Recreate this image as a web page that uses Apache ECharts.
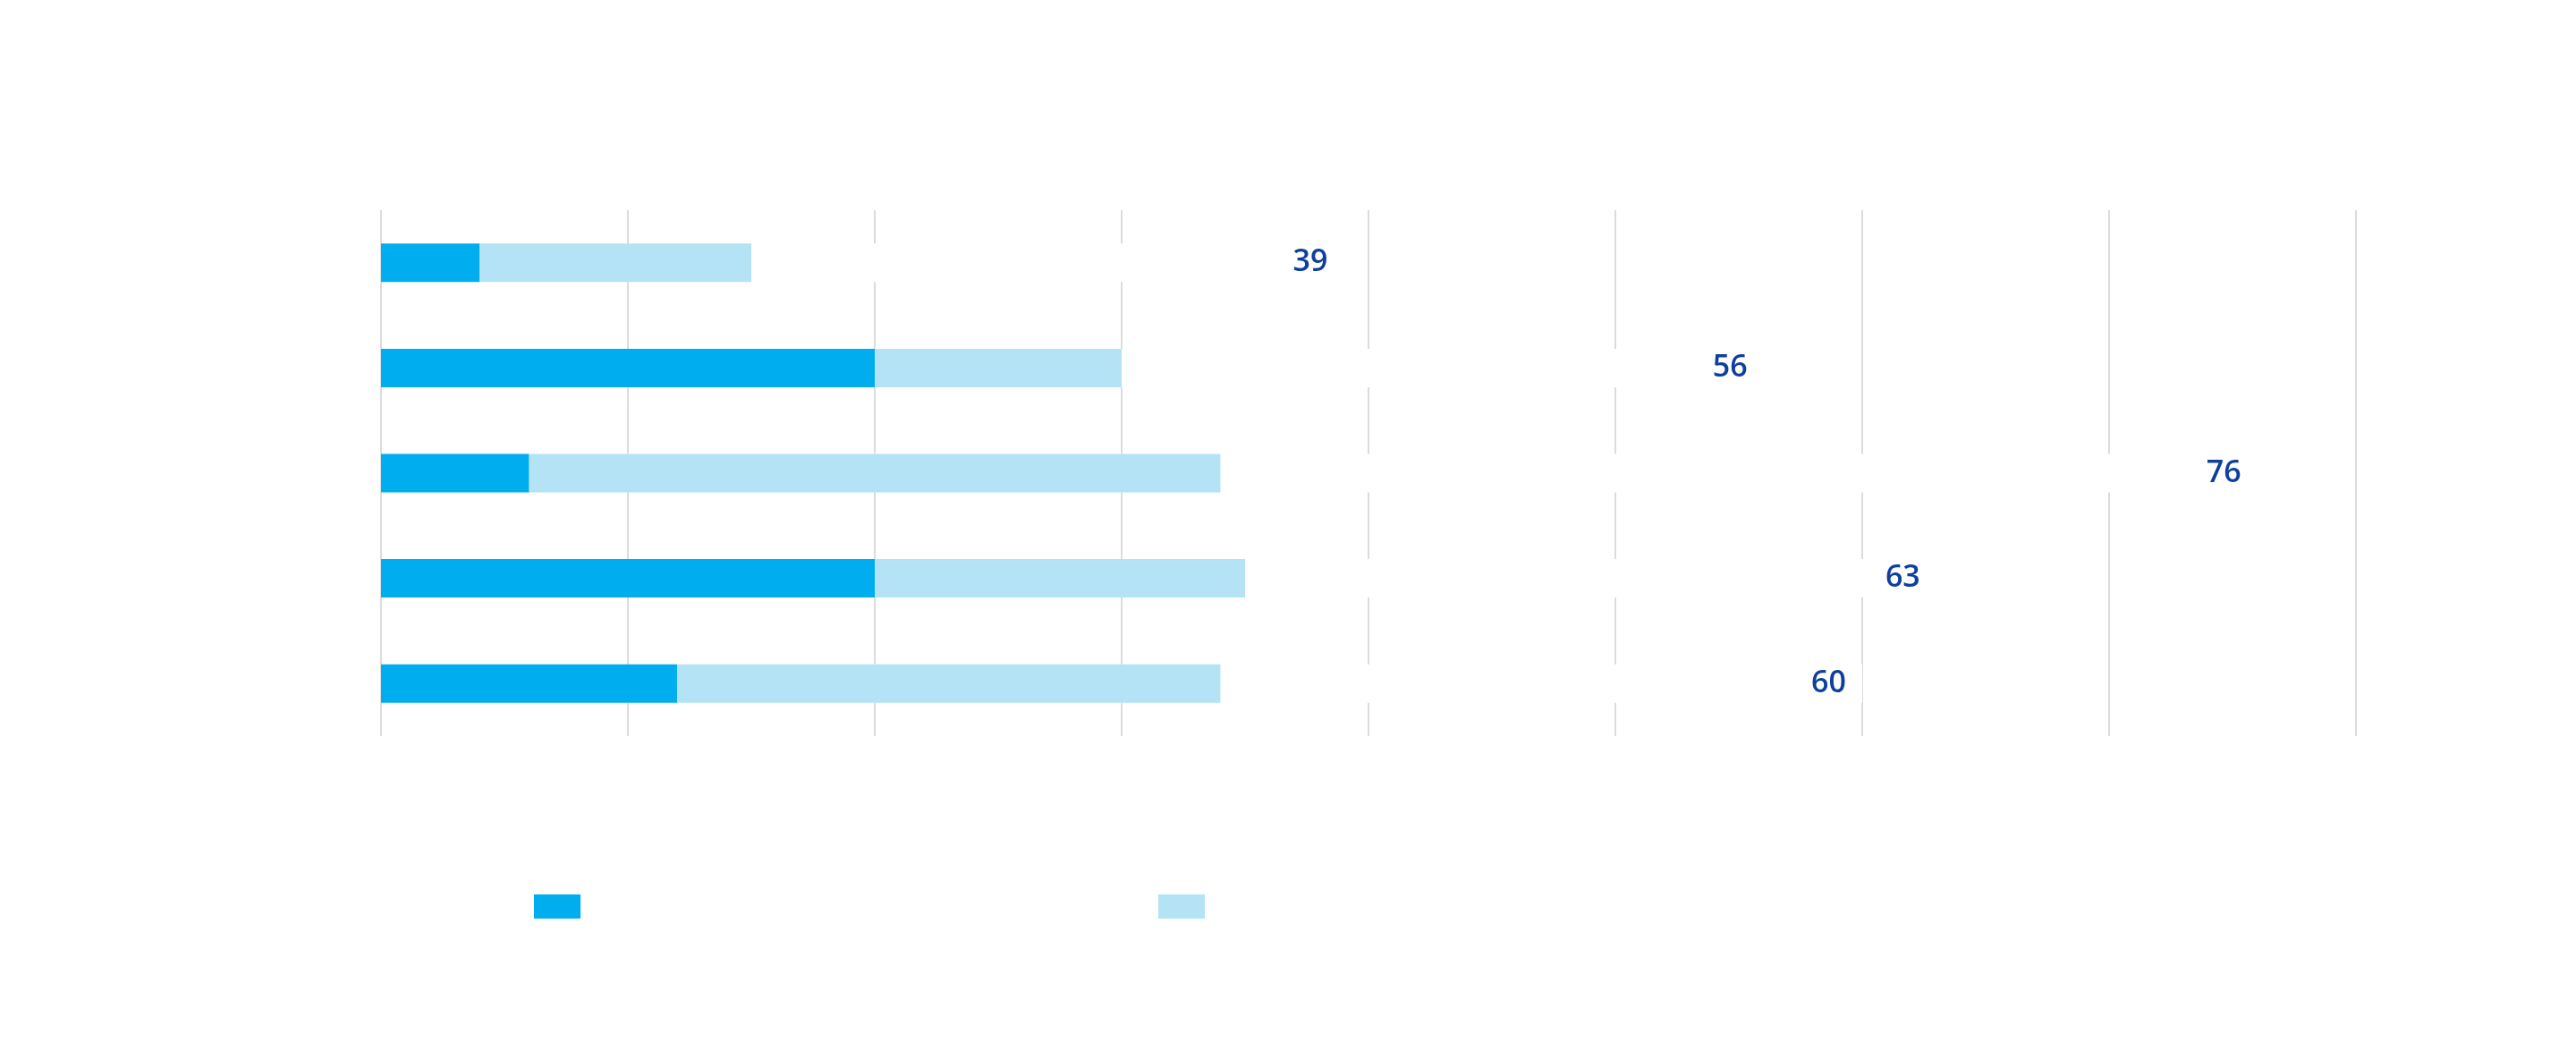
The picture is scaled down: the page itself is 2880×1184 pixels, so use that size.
<!DOCTYPE html>
<html>
<head>
<meta charset="utf-8">
<script src="https://cdn.jsdelivr.net/npm/echarts@6/dist/echarts.min.js"></script>
<style>
  html, body { margin: 0; padding: 0; background: #ffffff; }
  #chart { width: 2880px; height: 1184px; }
</style>
</head>
<body>
<div id="chart"></div>
<script>
// values (rows top to bottom)
const categories = ["1", "2", "3", "4", "5"];
const darkValues = [4, 20, 6, 20, 12];
const lightValues = [11, 10, 28, 15, 22];
const totals = [39, 56, 76, 63, 60];
const seriesNames = ["A", "B"];

const colors = {
  dark: "#00aeef",
  light: "#b4e3f5",
  grid: "#dcdcdc",
  label: "#0e3f9e",
};

const chart = echarts.init(document.getElementById("chart"), null, { renderer: "canvas" });

const legendBase = {
  top: 995,
  icon: "rect",
  itemWidth: 52,
  itemHeight: 27,
  formatter: () => "",
  selectedMode: false,
};

chart.setOption({
  animation: false,
  backgroundColor: "#ffffff",
  textStyle: { fontFamily: "Open Sans" },
  grid: { left: 426, right: 246, top: 235, bottom: 361 },
  legend: [
    { ...legendBase, left: 592, data: [seriesNames[0]] },
    { ...legendBase, left: 1290, data: [seriesNames[1]] },
  ],
  xAxis: {
    type: "value",
    min: 0,
    max: 80,
    interval: 10,
    axisLabel: { show: false },
    axisLine: { show: false },
    axisTick: { show: false },
    splitLine: { lineStyle: { color: colors.grid, width: 2 } },
  },
  yAxis: {
    type: "category",
    data: categories,
    inverse: true,
    axisLabel: { show: false },
    axisLine: { show: false },
    axisTick: { show: false },
  },
  series: [
    {
      // white bar behind the stack: hides the grid lines up to the total
      name: "total",
      type: "bar",
      data: totals,
      barWidth: 43,
      barGap: "-100%",
      itemStyle: { color: "#ffffff" },
      label: {
        show: true,
        position: "insideRight",
        distance: 18,
        color: colors.label,
        fontSize: 34,
        fontWeight: 600,
        fontFamily: "Open Sans",
      },
      silent: true,
    },
    {
      name: seriesNames[0],
      type: "bar",
      stack: "a",
      data: darkValues,
      barWidth: 43,
      barGap: "-100%",
      itemStyle: { color: colors.dark },
    },
    {
      name: seriesNames[1],
      type: "bar",
      stack: "a",
      data: lightValues,
      barWidth: 43,
      barGap: "-100%",
      itemStyle: { color: colors.light },
    },
  ],
});
</script>
</body>
</html>
